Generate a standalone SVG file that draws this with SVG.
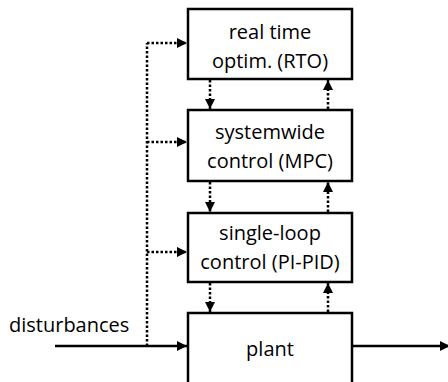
<svg xmlns="http://www.w3.org/2000/svg" width="448" height="382" viewBox="0 0 448 382">
<style>
.box{fill:#fff;stroke:#000;stroke-width:2.5}
.t{font-family:"Open Sans","Liberation Sans",sans-serif;font-size:20px;fill:#000;text-anchor:middle}
.dot{fill:none;stroke:#000;stroke-width:2.5;stroke-dasharray:2.5 2}
.sol{fill:none;stroke:#000;stroke-width:2.5}
</style>
<defs>
<marker id="ah" viewBox="0 0 10 10" refX="10" refY="5" markerWidth="10" markerHeight="10" markerUnits="userSpaceOnUse" orient="auto">
<path d="M0,0 L10,5 L0,10 Z" fill="#000"/>
</marker>
</defs>
<g id="rto"><rect class="box" x="188" y="9" width="164" height="70"/><text class="t" x="270" y="39">real time</text><text class="t" x="270" y="68">optim. (RTO)</text></g>
<g id="mpc"><rect class="box" x="188" y="110" width="164" height="71"/><text class="t" x="270" y="139">systemwide</text><text class="t" x="270" y="168">control (MPC)</text></g>
<g id="pid"><rect class="box" x="188" y="213" width="164" height="69"/><text class="t" x="270" y="240">single-loop</text><text class="t" x="270" y="269">control (PI-PID)</text></g>
<g id="plant"><rect class="box" x="188" y="313" width="164" height="80"/><text class="t" x="270" y="356">plant</text></g>
<g id="label"><text class="t" style="text-anchor:start" x="9" y="332">disturbances</text></g>
<g id="connectors">
<path class="dot" d="M147,346 V43"/>
<path class="dot" d="M147,43 H187" marker-end="url(#ah)"/>
<path class="dot" d="M147,142 H187" marker-end="url(#ah)"/>
<path class="dot" d="M147,252 H187" marker-end="url(#ah)"/>
<path class="dot" d="M210,80 V109" marker-end="url(#ah)"/>
<path class="dot" d="M328,109 V80" marker-end="url(#ah)"/>
<path class="dot" d="M210,182 V212" marker-end="url(#ah)"/>
<path class="dot" d="M328,212 V182" marker-end="url(#ah)"/>
<path class="dot" d="M210,283 V312" marker-end="url(#ah)"/>
<path class="dot" d="M328,312 V283" marker-end="url(#ah)"/>
<path class="sol" d="M55,346 H187" marker-end="url(#ah)"/>
<path class="sol" d="M353,346 H450" marker-end="url(#ah)"/>
</g>
</svg>
